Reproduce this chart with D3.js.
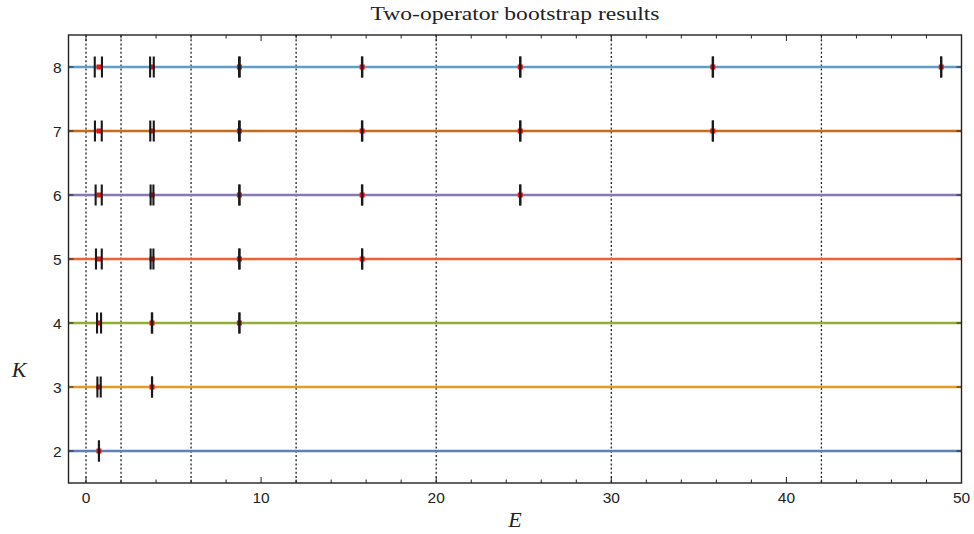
<!DOCTYPE html>
<html>
<head>
<meta charset="utf-8">
<script src="https://cdn.jsdelivr.net/npm/d3@7"></script>
<style>
  body { margin: 0; background: #fff; }
  svg { display: block; }
</style>
</head>
<body>
<svg id="chart" width="974" height="534"></svg>
<script>
// ---- Data ----
const kValues = [2, 3, 4, 5, 6, 7, 8];
const kColors = ["#5E81B5", "#E19C24", "#8FB032", "#EB6235", "#8778B3", "#C56E1A", "#5D9EC7"];
// bootstrap allowed intervals [lo, hi] per K
const intervalsK2 = [[0.74, 0.74]];
const intervalsK3 = [[0.65, 0.84], [3.77, 3.77]];
const intervalsK4 = [[0.63, 0.86], [3.76, 3.78], [8.76, 8.76]];
const intervalsK5 = [[0.57, 0.90], [3.69, 3.85], [8.75, 8.77], [15.77, 15.77]];
const intervalsK6 = [[0.55, 0.90], [3.69, 3.85], [8.75, 8.77], [15.76, 15.78], [24.80, 24.80]];
const intervalsK7 = [[0.51, 0.90], [3.67, 3.87], [8.74, 8.78], [15.76, 15.78], [24.79, 24.81], [35.80, 35.80]];
const intervalsK8 = [[0.50, 0.91], [3.66, 3.87], [8.74, 8.78], [15.76, 15.78], [24.79, 24.81], [35.79, 35.81], [48.84, 48.84]];
const intervalsByK = [intervalsK2, intervalsK3, intervalsK4, intervalsK5, intervalsK6, intervalsK7, intervalsK8];
// exact energies (red points)
const exactE = [0.74, 3.77, 8.76, 15.77, 24.80, 35.80, 48.84];
// dotted reference lines
const gridE = [0, 2, 6, 12, 20, 30, 42];
const xMajorTicks = [0, 10, 20, 30, 40, 50];
const xMinorTicks = [-2, 2, 4, 6, 8, 12, 14, 16, 18, 22, 24, 26, 28, 32, 34, 36, 38, 42, 44, 46, 48];
const yTicks = [2, 3, 4, 5, 6, 7, 8];
const titleText = "Two-operator bootstrap results";
const xLabel = "E";
const yLabel = "K";

// ---- Layout ----
const svg = d3.select("#chart");
const L = 68.5, R = 961.5, T = 35, B = 483;
const x = d3.scaleLinear().domain([-1, 50]).range([L, R]);
const y = d3.scaleLinear().domain([1.5, 8.5]).range([B, T]);

const clipId = "plotclip";
svg.append("defs").append("clipPath").attr("id", clipId)
  .append("rect").attr("x", L).attr("y", T).attr("width", R - L).attr("height", B - T);

const plot = svg.append("g").attr("clip-path", `url(#${clipId})`);

// dotted grid lines
plot.selectAll("line.grid").data(gridE).join("line")
  .attr("class", "grid")
  .attr("x1", d => x(d)).attr("x2", d => x(d))
  .attr("y1", T).attr("y2", B)
  .attr("stroke", "#222").attr("stroke-width", 1.3)
  .attr("stroke-dasharray", "2,2.2");

// horizontal K lines
plot.selectAll("line.kline").data(kValues).join("line")
  .attr("class", "kline")
  .attr("x1", x(-1)).attr("x2", x(50))
  .attr("y1", d => y(d)).attr("y2", d => y(d))
  .attr("stroke", (d, i) => kColors[i]).attr("stroke-width", 2.6);

// red exact points
kValues.forEach((k, i) => {
  const pts = exactE.slice(0, k - 1);
  plot.selectAll(null).data(pts).join("rect")
    .attr("x", d => x(d) - 2.5).attr("y", y(k) - 2.5)
    .attr("width", 5).attr("height", 5)
    .attr("fill", "#ee1111");
});

// interval bars
const halfH = 0.164;
kValues.forEach((k, i) => {
  const ends = [];
  intervalsByK[i].forEach(iv => { ends.push(iv[0]); ends.push(iv[1]); });
  plot.selectAll(null).data(ends).join("line")
    .attr("x1", d => x(d)).attr("x2", d => x(d))
    .attr("y1", y(k - halfH)).attr("y2", y(k + halfH))
    .attr("stroke", "#1a1a1a").attr("stroke-width", 2.1);
});

// frame
svg.append("rect").attr("x", L).attr("y", T).attr("width", R - L).attr("height", B - T)
  .attr("fill", "none").attr("stroke", "#222").attr("stroke-width", 1.4);

// ticks
const tickG = svg.append("g").attr("stroke", "#222").attr("stroke-width", 1);
const inX = d => d >= -1 && d <= 50;
tickG.selectAll(null).data(xMajorTicks.filter(inX)).join("line")
  .attr("x1", d => x(d)).attr("x2", d => x(d)).attr("y1", B).attr("y2", B - 6);
tickG.selectAll(null).data(xMajorTicks.filter(inX)).join("line")
  .attr("x1", d => x(d)).attr("x2", d => x(d)).attr("y1", T).attr("y2", T + 6);
tickG.selectAll(null).data(xMinorTicks.filter(inX)).join("line")
  .attr("x1", d => x(d)).attr("x2", d => x(d)).attr("y1", B).attr("y2", B - 3.5);
tickG.selectAll(null).data(xMinorTicks.filter(inX)).join("line")
  .attr("x1", d => x(d)).attr("x2", d => x(d)).attr("y1", T).attr("y2", T + 3.5);
tickG.selectAll(null).data(yTicks).join("line")
  .attr("x1", L).attr("x2", L + 5).attr("y1", d => y(d)).attr("y2", d => y(d));
tickG.selectAll(null).data(yTicks).join("line")
  .attr("x1", R).attr("x2", R - 5).attr("y1", d => y(d)).attr("y2", d => y(d));

// tick labels
const sans = "'Liberation Sans', Arial, sans-serif";
svg.append("g").selectAll("text").data(xMajorTicks).join("text")
  .attr("x", d => x(d)).attr("y", 497)
  .attr("text-anchor", "middle").attr("dominant-baseline", "central")
  .attr("font-family", sans).attr("font-size", 15.5).attr("fill", "#222")
  .text(d => d);
svg.append("g").selectAll("text").data(yTicks).join("text")
  .attr("x", 61.5).attr("y", d => y(d))
  .attr("text-anchor", "end").attr("dominant-baseline", "central")
  .attr("font-family", sans).attr("font-size", 15.5).attr("fill", "#222")
  .text(d => d);

// title and axis labels
const serif = "'Liberation Serif', 'DejaVu Serif', serif";
svg.append("text").attr("x", (L + R) / 2).attr("y", 20)
  .attr("text-anchor", "middle")
  .attr("font-family", serif).attr("font-size", 18).attr("fill", "#222")
  .attr("textLength", 289).attr("lengthAdjust", "spacingAndGlyphs")
  .text(titleText);
svg.append("text").attr("x", 515).attr("y", 527)
  .attr("text-anchor", "middle")
  .attr("font-family", serif).attr("font-style", "italic").attr("font-size", 22).attr("fill", "#222")
  .text(xLabel);
svg.append("text").attr("x", 19).attr("y", 377)
  .attr("text-anchor", "middle")
  .attr("font-family", serif).attr("font-style", "italic").attr("font-size", 22).attr("fill", "#222")
  .text(yLabel);
</script>
</body>
</html>
